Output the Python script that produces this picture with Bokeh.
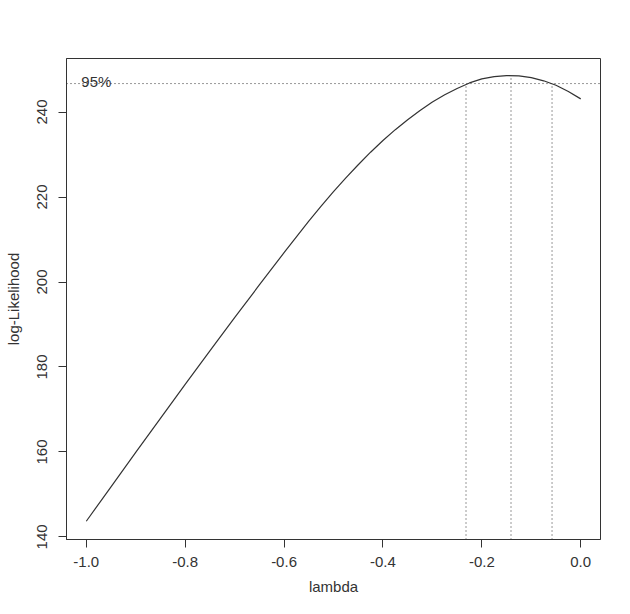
from bokeh.plotting import figure
from bokeh.models import Range1d, FixedTicker, PrintfTickFormatter, Span
from bokeh.core.properties import value
from bokeh.embed import file_html
from bokeh.resources import INLINE

# Box-Cox profile log-likelihood
lambdas = [-1.000, -0.950, -0.900, -0.850, -0.800, -0.750, -0.700, -0.650, -0.600,
           -0.550, -0.525, -0.500, -0.475, -0.450, -0.425, -0.400, -0.375, -0.350,
           -0.325, -0.300, -0.275, -0.250, -0.225, -0.200, -0.175, -0.150, -0.125,
           -0.100, -0.075, -0.050, -0.025, 0.000]
loglik = [143.7, 151.8, 159.9, 167.9, 175.9, 183.8, 191.6, 199.3, 206.9,
          214.3, 217.85, 221.25, 224.5, 227.6, 230.55, 233.3, 235.85, 238.2,
          240.35, 242.35, 244.05, 245.55, 246.85, 247.8, 248.35, 248.58, 248.5,
          248.1, 247.35, 246.3, 244.85, 243.1]

ci_level = 246.7
ci_label = "95%"
ci_lambda = [-0.232, -0.141, -0.058]
ci_top = [246.7, 248.58, 246.7]

x_ticks = [-1.0, -0.8, -0.6, -0.4, -0.2, 0.0]
y_ticks = [140, 160, 180, 200, 220, 240]

FONT = "Liberation Sans"
INK = "#333333"

p = figure(width=614, height=598, output_backend="svg", toolbar_location=None,
           x_range=Range1d(-1.04, 0.04), y_range=Range1d(139.4, 252.6),
           min_border_left=66, min_border_right=14, min_border_top=58, min_border_bottom=59,
           x_axis_label="lambda", y_axis_label="log-Likelihood")
p.background_fill_color = "white"
p.border_fill_color = "white"
p.grid.visible = False
p.outline_line_color = INK
p.outline_line_width = 1

for ax in (p.xaxis[0], p.yaxis[0]):
    ax.axis_line_color = INK
    ax.major_tick_line_color = INK
    ax.major_tick_out = 8
    ax.major_tick_in = 0
    ax.minor_tick_line_color = None
    ax.major_label_text_font = FONT
    ax.major_label_text_font_size = "15px"
    ax.major_label_text_color = INK
    ax.axis_label_text_font = FONT
    ax.axis_label_text_font_size = "15px"
    ax.axis_label_text_font_style = "normal"
    ax.axis_label_text_color = INK

p.xaxis.ticker = FixedTicker(ticks=x_ticks)
p.xaxis.formatter = PrintfTickFormatter(format="%.1f")
p.xaxis.major_label_standoff = 9
p.xaxis.axis_label_standoff = 8

p.yaxis.ticker = FixedTicker(ticks=y_ticks)
p.yaxis.formatter = PrintfTickFormatter(format="%d")
p.yaxis.major_label_orientation = "vertical"
p.yaxis.major_label_standoff = 11
p.yaxis.axis_label_standoff = 13

p.line(lambdas, loglik, line_color=INK, line_width=1.2)

p.add_layout(Span(location=ci_level, dimension="width", line_color=INK,
                  line_dash="1 3", line_width=1))
y0 = p.y_range.start
p.segment(x0=ci_lambda, y0=[y0] * len(ci_lambda), x1=ci_lambda, y1=ci_top,
          line_color=INK, line_dash="1 3", line_width=1)

p.text(x=[-1.01], y=[247.3], text=[ci_label], text_font=value(FONT),
       text_font_size="15px", text_color=INK, text_align="left",
       text_baseline="alphabetic")

open("out.html", "w").write(file_html(p, INLINE))
